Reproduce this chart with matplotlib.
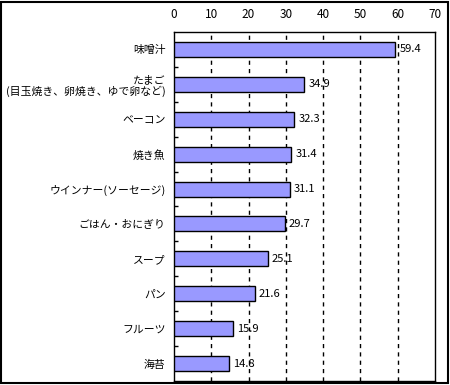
import matplotlib
matplotlib.use("Agg")
import matplotlib.pyplot as plt
from matplotlib.patches import Rectangle
import numpy as np

plt.rcParams['font.family'] = ['Noto Sans CJK JP', 'DejaVu Sans']

# Data (top to bottom)
categories = ['味噌汁', 'たまご\n(目玉焼き、卵焼き、ゆで卵など)', 'ベーコン', '焼き魚',
              'ウインナー(ソーセージ)', 'ごはん・おにぎり', 'スープ', 'パン', 'フルーツ', '海苔']
values = [59.4, 34.9, 32.3, 31.4, 31.1, 29.7, 25.1, 21.6, 15.9, 14.8]
xticks = [0, 10, 20, 30, 40, 50, 60, 70]

fig = plt.figure(figsize=(4.5, 3.85), dpi=100)
ax = fig.add_axes([174 / 450, 1 - 381 / 385, (435 - 174) / 450, (381 - 32) / 385])

y = np.arange(len(categories))
ax.barh(y, values, height=0.43, color='#9999FF', edgecolor='black', linewidth=1, zorder=3)

for yi, v in zip(y, values):
    ax.annotate(f'{v:.1f}', (v, yi), xytext=(3, 0), textcoords='offset points',
                va='center', ha='left', fontsize=8, zorder=4)

ax.set_xlim(0, 70)
ax.set_ylim(len(categories) - 0.5, -0.5)
ax.set_xticks(xticks)
ax.xaxis.tick_top()
ax.tick_params(axis='x', length=0, pad=8, labelsize=8.5)
ax.set_yticks(y)
ax.set_yticklabels(categories, fontsize=7.8, linespacing=1.15)
ax.set_yticks(np.arange(len(categories) - 1) + 0.5, minor=True)
ax.tick_params(axis='y', which='major', length=0, pad=6)
ax.tick_params(axis='y', which='minor', length=3, direction='in', width=1)
for lab in ax.get_yticklabels():
    lab.set_multialignment('right')

for xv in xticks[1:-1]:
    ax.axvline(xv, color='black', linestyle=(0, (3, 3)), linewidth=1, zorder=1)

for s in ax.spines.values():
    s.set_linewidth(1)
    s.set_color('black')

fig.patches.append(Rectangle((0.003, 0.004), 0.993, 0.992, transform=fig.transFigure,
                             fill=False, edgecolor='black', linewidth=1.5))

fig.savefig('out.png', dpi=100)
